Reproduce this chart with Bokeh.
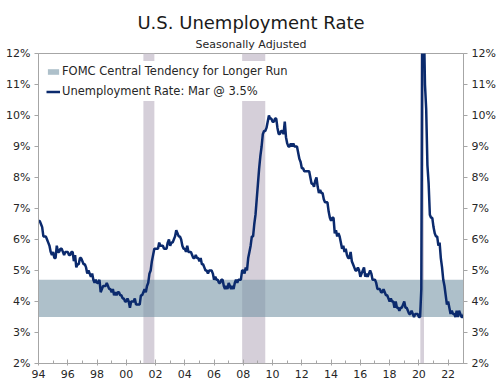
from bokeh.plotting import figure
from bokeh.models import (Range1d, LinearAxis, FixedTicker, PrintfTickFormatter,
                          Title, Legend, LegendItem)
from bokeh.embed import file_html
from bokeh.resources import INLINE

# ---- data -------------------------------------------------------------
start_year = 1994
unemployment_rate = [
    6.6, 6.6, 6.5, 6.4, 6.1, 6.1, 6.1, 6.0, 5.9, 5.8, 5.6, 5.5,   # 1994
    5.6, 5.4, 5.4, 5.8, 5.6, 5.6, 5.7, 5.7, 5.6, 5.5, 5.6, 5.6,   # 1995
    5.6, 5.5, 5.5, 5.6, 5.6, 5.3, 5.5, 5.1, 5.2, 5.2, 5.4, 5.4,   # 1996
    5.3, 5.2, 5.2, 5.1, 4.9, 5.0, 4.9, 4.8, 4.9, 4.7, 4.6, 4.7,   # 1997
    4.6, 4.6, 4.7, 4.3, 4.4, 4.5, 4.5, 4.5, 4.6, 4.5, 4.4, 4.4,   # 1998
    4.3, 4.4, 4.2, 4.3, 4.2, 4.3, 4.3, 4.2, 4.2, 4.1, 4.1, 4.0,   # 1999
    4.0, 4.1, 4.0, 3.8, 4.0, 4.0, 4.0, 4.1, 3.9, 3.9, 3.9, 3.9,   # 2000
    4.2, 4.2, 4.3, 4.4, 4.3, 4.5, 4.6, 4.9, 5.0, 5.3, 5.5, 5.7,   # 2001
    5.7, 5.7, 5.7, 5.9, 5.8, 5.8, 5.8, 5.7, 5.7, 5.7, 5.9, 6.0,   # 2002
    5.8, 5.9, 5.9, 6.0, 6.1, 6.3, 6.2, 6.1, 6.1, 6.0, 5.8, 5.7,   # 2003
    5.7, 5.6, 5.8, 5.6, 5.6, 5.6, 5.5, 5.4, 5.4, 5.5, 5.4, 5.4,   # 2004
    5.3, 5.4, 5.2, 5.2, 5.1, 5.0, 5.0, 4.9, 5.0, 5.0, 5.0, 4.9,   # 2005
    4.7, 4.8, 4.7, 4.7, 4.6, 4.6, 4.7, 4.7, 4.5, 4.4, 4.5, 4.4,   # 2006
    4.6, 4.5, 4.4, 4.5, 4.4, 4.6, 4.7, 4.6, 4.7, 4.7, 4.7, 5.0,   # 2007
    5.0, 4.9, 5.1, 5.0, 5.4, 5.6, 5.8, 6.1, 6.1, 6.5, 6.8, 7.3,   # 2008
    7.8, 8.3, 8.7, 9.0, 9.4, 9.5, 9.5, 9.6, 9.8, 10.0, 9.9, 9.9,  # 2009
    9.8, 9.8, 9.9, 9.9, 9.6, 9.4, 9.4, 9.5, 9.5, 9.4, 9.8, 9.3,   # 2010
    9.1, 9.0, 9.0, 9.1, 9.0, 9.1, 9.0, 9.0, 9.0, 8.8, 8.6, 8.5,   # 2011
    8.3, 8.3, 8.2, 8.2, 8.2, 8.2, 8.2, 8.0, 7.8, 7.8, 7.7, 7.9,   # 2012
    8.0, 7.7, 7.5, 7.6, 7.5, 7.5, 7.3, 7.2, 7.2, 7.2, 6.9, 6.7,   # 2013
    6.6, 6.7, 6.7, 6.2, 6.3, 6.1, 6.2, 6.1, 5.9, 5.7, 5.8, 5.6,   # 2014
    5.7, 5.5, 5.4, 5.4, 5.6, 5.3, 5.2, 5.1, 5.0, 5.0, 5.1, 5.0,   # 2015
    4.8, 4.9, 5.0, 5.1, 4.8, 4.9, 4.8, 4.9, 5.0, 4.9, 4.7, 4.7,   # 2016
    4.7, 4.6, 4.4, 4.4, 4.4, 4.3, 4.3, 4.4, 4.3, 4.2, 4.2, 4.1,   # 2017
    4.0, 4.1, 4.0, 4.0, 3.8, 4.0, 3.8, 3.8, 3.7, 3.8, 3.8, 3.9,   # 2018
    4.0, 3.8, 3.8, 3.7, 3.6, 3.6, 3.7, 3.6, 3.5, 3.6, 3.6, 3.6,   # 2019
    3.5, 3.5, 4.4, 14.7, 13.2, 11.0, 10.2, 8.4, 7.8, 6.8, 6.7, 6.7,  # 2020
    6.4, 6.2, 6.1, 6.1, 5.8, 5.9, 5.4, 5.1, 4.7, 4.5, 4.2, 3.9,   # 2021
    4.0, 3.8, 3.6, 3.7, 3.6, 3.6, 3.5, 3.7, 3.5, 3.7, 3.6, 3.5,   # 2022
    3.5, 3.6, 3.5,                                                # 2023
]
dates = [start_year + i / 12 for i in range(len(unemployment_rate))]

recession_start = [2001.17, 2007.92, 2020.10]
recession_end = [2001.92, 2009.50, 2020.35]

fomc_low = 3.5
fomc_high = 4.7

x_major_ticks = list(range(1994, 2023, 2))
x_minor_ticks = list(range(1995, 2023, 2))
x_tick_labels = {yr: f"{yr % 100:02d}" for yr in x_major_ticks}
y_ticks = list(range(2, 13))

FONT = "DejaVu Sans"
AXIS_COLOR = "#a6a6a6"
TEXT_COLOR = "#262626"

# ---- figure -----------------------------------------------------------
p = figure(width=501, height=385, output_backend="svg", toolbar_location=None,
           x_range=Range1d(1994, 2023.05), y_range=Range1d(2, 12),
           min_border_left=38, min_border_right=38, min_border_top=53,
           min_border_bottom=22, title=None, background_fill_color="white",
           border_fill_color="white")
p.grid.visible = False
p.outline_line_color = AXIS_COLOR

# recession shading
p.quad(left=recession_start, right=recession_end, bottom=2, top=12,
       fill_color="#d5cfd9", line_color=None)

# FOMC band
band = p.quad(left=[1994], right=[2023.05], bottom=[fomc_low], top=[fomc_high],
              fill_color="#7896a7", fill_alpha=0.6, line_color=None)

# unemployment line
line = p.line(dates, unemployment_rate, line_color="#0b2a6d", line_width=2.5)

# axes
p.xaxis.ticker = FixedTicker(ticks=x_major_ticks, minor_ticks=x_minor_ticks)
p.xaxis.major_label_overrides = x_tick_labels
p.xaxis.major_tick_in = 4
p.xaxis.major_tick_out = 2
p.xaxis.minor_tick_in = 3
p.xaxis.minor_tick_out = 0

p.yaxis.ticker = FixedTicker(ticks=y_ticks, minor_ticks=[])
p.yaxis.formatter = PrintfTickFormatter(format="%d%%")

right_axis = LinearAxis(ticker=FixedTicker(ticks=y_ticks, minor_ticks=[]),
                        formatter=PrintfTickFormatter(format="%d%%"))
p.add_layout(right_axis, "right")

for ax in [p.xaxis[0], p.yaxis[0], right_axis]:
    ax.axis_line_color = AXIS_COLOR
    ax.major_tick_line_color = AXIS_COLOR
    ax.minor_tick_line_color = AXIS_COLOR
    ax.major_label_text_font = FONT
    ax.major_label_text_font_size = "11px"
    ax.major_label_text_color = TEXT_COLOR
    ax.major_label_standoff = 4

for ax in [p.yaxis[0], right_axis]:
    ax.major_tick_in = 0
    ax.major_tick_out = 4
    ax.minor_tick_in = 0
    ax.minor_tick_out = 0

# legend
legend = Legend(items=[
    LegendItem(label="FOMC Central Tendency for Longer Run", renderers=[band]),
    LegendItem(label="Unemployment Rate: Mar @ 3.5%", renderers=[line]),
], location="top_left", margin=8, padding=3, spacing=0,
    label_text_font=FONT, label_text_font_size="11.5px", label_text_color=TEXT_COLOR,
    label_height=20, glyph_width=14, glyph_height=7, label_standoff=2,
    background_fill_color="white", background_fill_alpha=1.0,
    border_line_color=None)
p.add_layout(legend)

# titles (first added sits closest to the plot)
p.add_layout(Title(text="Seasonally Adjusted", align="center", text_font=FONT,
                   text_font_size="11px", text_font_style="normal",
                   text_color=TEXT_COLOR, standoff=6), "above")
p.add_layout(Title(text="U.S. Unemployment Rate", align="center", text_font=FONT,
                   text_font_size="18px", text_font_style="normal",
                   text_color="#1a1a1a", standoff=0), "above")

open("out.html", "w").write(file_html(p, INLINE))
